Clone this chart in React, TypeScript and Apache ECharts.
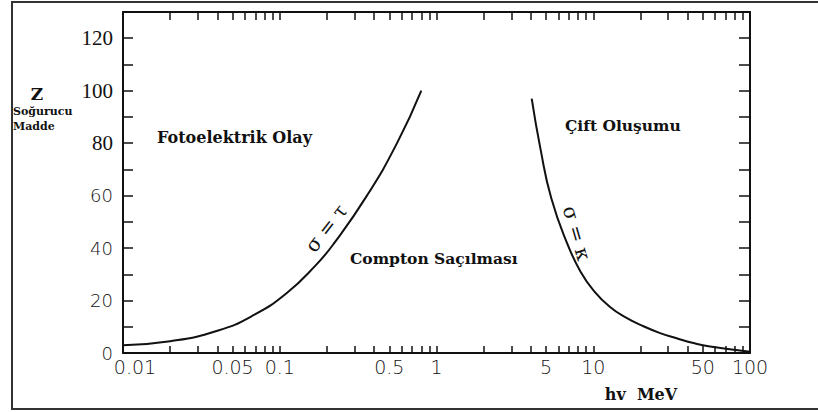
import React, { useEffect, useRef } from "react";
import * as echarts from "echarts";

// Energy (MeV) and atomic number Z
const photoEnergy = [0.01, 0.02, 0.04, 0.068, 0.11, 0.17, 0.22, 0.36, 0.56, 0.8];
const photoZ = [3, 4.5, 8.5, 14.4, 22.7, 33.5, 41.5, 60, 80, 100];

const pairEnergy = [4.05, 4.6, 5.4, 6.9, 8.3, 10, 12.8, 16.3, 20.9, 26.7, 34, 43.5, 55.6, 100];
const pairZ = [97, 78, 59, 41, 31, 24, 17.5, 13.4, 10.2, 7.6, 5.6, 3.8, 2.5, 0.5];

const xLabels = [0.01, 0.05, 0.1, 0.5, 1, 5, 10, 50, 100];
const xLabelTexts = ["0.01", "0.05", "0.1", "0.5", "1", "5", "10", "50", "100"];
const tickMantissas = [1, 2, 3, 4, 5, 6, 7, 8, 9];
const tickDecades = [0.01, 0.1, 1, 10];
const yLabels = [0, 20, 40, 60, 80, 100, 120];
const ySerifLabels = [80, 100, 120];

const xTicks: number[] = [];
tickDecades.forEach((d) => tickMantissas.forEach((m) => xTicks.push(Math.log10(m * d))));
xTicks.push(Math.log10(100));

const toLog = (xs: number[], ys: number[]) => xs.map((x, i) => [Math.log10(x), ys[i]]);

export default function App() {
  const ref = useRef<HTMLDivElement>(null);
  useEffect(() => {
    if (!ref.current) return;
    const chart = echarts.init(ref.current, null, { renderer: "svg" });
    const axisLine = { onZero: false, lineStyle: { color: "#111", width: 2 } };
    const labelFmt = (v: number) => {
      const i = xLabels.findIndex((l) => Math.abs(Math.log10(l) - v) < 1e-6);
      if (i < 0) return "";
      return i === 0 ? `{first|${xLabelTexts[i]}}` : xLabelTexts[i];
    };
    const serif = "'DejaVu Serif', 'Liberation Serif', serif";
    const sans = "'DejaVu Sans', sans-serif";
    chart.setOption({
      animation: false,
      backgroundColor: "#fff",
      grid: { left: 123, right: 68, top: 12, bottom: 59, outerBoundsMode: "none" },
      xAxis: [
        {
          type: "value",
          min: -2,
          max: 2,
          position: "bottom",
          axisLine,
          splitLine: { show: false },
          axisTick: { inside: true, length: 7, customValues: xTicks, lineStyle: { color: "#111", width: 1.5 } },
          axisLabel: {
            customValues: xLabels.map((l) => Math.log10(l)),
            formatter: labelFmt,
            color: "#111",
            fontSize: 19,
            fontFamily: sans,
            fontWeight: 200,
            margin: 4,
            rich: {
              first: { fontSize: 19, fontFamily: sans, fontWeight: 200, color: "#111", padding: [0, 0, 0, 24] },
            },
          },
        },
        {
          type: "value",
          min: -2,
          max: 2,
          position: "top",
          axisLine,
          splitLine: { show: false },
          axisTick: { inside: true, length: 8, customValues: xTicks, lineStyle: { color: "#111", width: 1.5 } },
          axisLabel: { show: false },
        },
      ],
      yAxis: [
        {
          type: "value",
          min: 0,
          max: 130,
          interval: 10,
          position: "left",
          axisLine,
          splitLine: { show: false },
          axisTick: { inside: true, length: 10, lineStyle: { color: "#111", width: 1.5 } },
          axisLabel: {
            margin: 10,
            formatter: (v: number) =>
              yLabels.indexOf(v) >= 0 ? (ySerifLabels.indexOf(v) >= 0 ? `{s|${v}}` : `{n|${v}}`) : "",
            rich: {
              s: { fontFamily: "'Liberation Serif', serif", fontSize: 21, color: "#111" },
              n: { fontFamily: sans, fontSize: 18, fontWeight: 200, color: "#111" },
            },
          },
        },
        {
          type: "value",
          min: 0,
          max: 130,
          interval: 10,
          position: "right",
          axisLine,
          splitLine: { show: false },
          axisTick: { inside: true, length: 11, lineStyle: { color: "#111", width: 1.5 } },
          axisLabel: { show: false },
        },
      ],
      series: [
        {
          type: "line",
          data: toLog(photoEnergy, photoZ),
          showSymbol: false,
          smooth: 0.5,
          lineStyle: { color: "#111", width: 2 },
        },
        {
          type: "line",
          data: toLog(pairEnergy, pairZ),
          showSymbol: false,
          smooth: 0.5,
          lineStyle: { color: "#111", width: 2 },
        },
      ],
      graphic: [
        {
          type: "rect",
          z: -1,
          shape: { x: 12, y: 2, width: 830, height: 407 },
          style: { fill: "none", stroke: "#333", lineWidth: 2 },
        },
        { type: "text", x: 37, y: 94, style: { text: "Z", font: `bold 17px ${serif}`, fill: "#111", textAlign: "center", textVerticalAlign: "middle" } },
        { type: "text", x: 13, y: 111, style: { text: "Soğurucu", font: `bold 11px ${serif}`, fill: "#111", textAlign: "left", textVerticalAlign: "middle" } },
        { type: "text", x: 13, y: 126, style: { text: "Madde", font: `bold 11px ${serif}`, fill: "#111", textAlign: "left", textVerticalAlign: "middle" } },
        { type: "text", x: 157, y: 137, style: { text: "Fotoelektrik Olay", font: `bold 16px ${serif}`, fill: "#111", textAlign: "left", textVerticalAlign: "middle" } },
        { type: "text", x: 565, y: 125, style: { text: "Çift Oluşumu", font: `bold 15.5px ${serif}`, fill: "#111", textAlign: "left", textVerticalAlign: "middle" } },
        { type: "text", x: 350, y: 258, style: { text: "Compton Saçılması", font: `bold 15.5px ${serif}`, fill: "#111", textAlign: "left", textVerticalAlign: "middle" } },
        { type: "text", x: 326, y: 228, rotation: (52 * Math.PI) / 180, style: { text: "σ = τ", font: `20px ${serif}`, fill: "#111", textAlign: "center", textVerticalAlign: "middle" } },
        { type: "text", x: 577, y: 233, rotation: (-74 * Math.PI) / 180, style: { text: "σ = κ", font: `20px ${serif}`, fill: "#111", textAlign: "center", textVerticalAlign: "middle" } },
        { type: "text", x: 641, y: 394, style: { text: "hv  MeV", font: `bold 16px ${serif}`, fill: "#111", textAlign: "center", textVerticalAlign: "middle" } },
      ],
    });
    return () => chart.dispose();
  }, []);
  return <div ref={ref} style={{ position: "fixed", left: 0, top: 0, width: 818, height: 412 }} />;
}
